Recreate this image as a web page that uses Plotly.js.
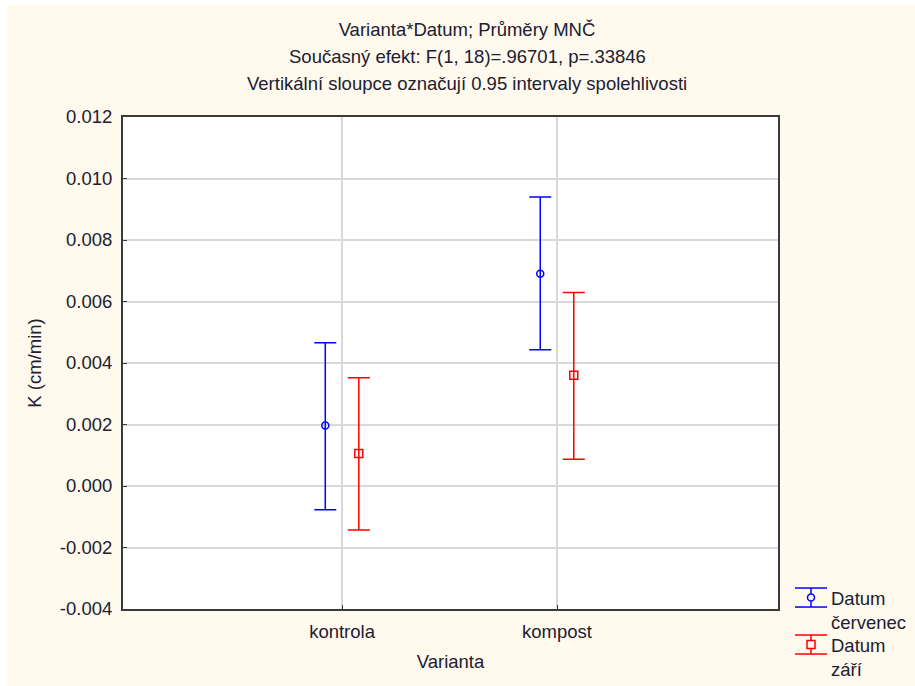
<!DOCTYPE html>
<html>
<head>
<meta charset="utf-8">
<script src="https://cdn.plot.ly/plotly-3.0.1.min.js"></script>
<style>
html,body{margin:0;padding:0;background:#ffffff;}
#chart{position:absolute;left:7px;top:5px;width:908px;height:681px;}
</style>
</head>
<body>
<div id="chart"></div>
<script>
// Categories (Varianta) and tick labels
var categories = ["kontrola", "kompost"];
var categoryPos = [0, 1];
// Series: Datum červenec
var meanCervenec = [0.00197, 0.0069];
var upperCervenec = [0.00466, 0.0094];
var lowerCervenec = [-0.00077, 0.00443];
// Series: Datum září
var meanZari = [0.00106, 0.0036];
var upperZari = [0.00352, 0.00629];
var lowerZari = [-0.00143, 0.00087];
var yTicks = [-0.004, -0.002, 0, 0.002, 0.004, 0.006, 0.008, 0.010, 0.012];
var yTickText = ["-0.004", "-0.002", "0.000", "0.002", "0.004", "0.006", "0.008", "0.010", "0.012"];

var dodge = 0.078;
function shift(arr, d){ return arr.map(function(v){ return v + d; }); }
function diff(a, b){ return a.map(function(v, i){ return v - b[i]; }); }

var font = "Liberation Sans, Arial, sans-serif";
var txt = "#202030";
var fs = 18.5;
var colors = ["#0000ff", "#ff0000"];

var traces = [
  {
    type: "scatter", mode: "markers",
    name: "Datum<br>červenec", legend: "legend",
    x: shift(categoryPos, -dodge), y: meanCervenec,
    marker: {symbol: "circle-open", size: 7, color: colors[0], line: {width: 1.5, color: colors[0]}},
    error_y: {type: "data", symmetric: false,
      array: diff(upperCervenec, meanCervenec),
      arrayminus: diff(meanCervenec, lowerCervenec),
      color: colors[0], thickness: 1.5, width: 11}
  },
  {
    type: "scatter", mode: "markers",
    name: "Datum<br>září", legend: "legend2",
    x: shift(categoryPos, dodge), y: meanZari,
    marker: {symbol: "square-open", size: 8, color: colors[1], line: {width: 1.5, color: colors[1]}},
    error_y: {type: "data", symmetric: false,
      array: diff(upperZari, meanZari),
      arrayminus: diff(meanZari, lowerZari),
      color: colors[1], thickness: 1.5, width: 11}
  }
];

var W = 908, H = 681;
var M = {l: 116, r: 137, t: 112, b: 77, autoexpand: false};
var PW = W - M.l - M.r, PH = H - M.t - M.b;
function legendBox(pageTop){
  return {
    x: (791 - 7 - M.l) / PW, y: (H - M.b - (pageTop - 5)) / PH, xanchor: "left", yanchor: "top",
    bgcolor: "rgba(0,0,0,0)", borderwidth: 0,
    font: {size: fs, color: txt}, valign: "top"
  };
}

var layout = {
  width: W, height: H,
  paper_bgcolor: "#fff9ee",
  plot_bgcolor: "#ffffff",
  font: {family: font, size: fs, color: txt},
  margin: M,
  title: {text: "Varianta*Datum; Průměry MNČ", x: 460 / W, xanchor: "center", y: 1 - 25 / H, yanchor: "middle", font: {size: fs, color: txt}},
  annotations: [
    {text: "Současný efekt: F(1, 18)=.96701, p=.33846", xref: "paper", yref: "paper", x: (460 - M.l) / PW, y: 1.0 + (M.t - 52) / PH, xanchor: "center", yanchor: "middle", showarrow: false, font: {size: fs, color: txt}},
    {text: "Vertikální sloupce označují 0.95 intervaly spolehlivosti", xref: "paper", yref: "paper", x: (460 - M.l) / PW, y: 1.0 + (M.t - 79) / PH, xanchor: "center", yanchor: "middle", showarrow: false, font: {size: fs, color: txt}}
  ],
  xaxis: {
    range: [-1.019, 2.028],
    tickvals: categoryPos, ticktext: categories,
    showgrid: true, gridcolor: "#d9d9d9", gridwidth: 2,
    zeroline: false, automargin: false,
    showline: true, linecolor: "#3a3a3a", linewidth: 2, mirror: true,
    ticks: "inside", ticklen: 4, tickcolor: "#3a3a3a", tickwidth: 1,
    ticklabelstandoff: 5,
    tickfont: {size: fs, color: txt},
    title: {text: "Varianta", font: {size: fs, color: txt}, standoff: 14}
  },
  yaxis: {
    range: [-0.004, 0.012],
    tickvals: yTicks, ticktext: yTickText,
    showgrid: true, gridcolor: "#d9d9d9", gridwidth: 2,
    zeroline: false, automargin: false,
    showline: true, linecolor: "#3a3a3a", linewidth: 2, mirror: true,
    ticks: "inside", ticklen: 4, tickcolor: "#3a3a3a", tickwidth: 1,
    ticklabelstandoff: 5,
    tickfont: {size: fs, color: txt},
    title: {text: "K (cm/min)", font: {size: fs, color: txt}, standoff: 13}
  },
  showlegend: true,
  legend: legendBox(579),
  legend2: legendBox(626)
};

// Draw error-bar style glyphs (caps + stem) around each legend marker
function addLegendGlyphs(gd){
  var box = gd.getBoundingClientRect();
  var pts = gd.querySelectorAll(".legendpoints path.scatterpts");
  var shapes = [];
  function px(x){ return (x - M.l) / PW; }
  function py(y){ return (H - M.b - y) / PH; }
  for (var i = 0; i < pts.length && i < colors.length; i++){
    var r = pts[i].getBoundingClientRect();
    var cx = (r.left + r.right) / 2 - box.left, cy = (r.top + r.bottom) / 2 - box.top;
    var line = {color: colors[i], width: 1.5};
    shapes.push({type: "line", xref: "paper", yref: "paper", x0: px(cx - 16), x1: px(cx + 16), y0: py(cy - 9.5), y1: py(cy - 9.5), line: line});
    shapes.push({type: "line", xref: "paper", yref: "paper", x0: px(cx - 16), x1: px(cx + 16), y0: py(cy + 9.5), y1: py(cy + 9.5), line: line});
    shapes.push({type: "line", xref: "paper", yref: "paper", x0: px(cx), x1: px(cx), y0: py(cy - 9.5), y1: py(cy - 4), line: line});
    shapes.push({type: "line", xref: "paper", yref: "paper", x0: px(cx), x1: px(cx), y0: py(cy + 4), y1: py(cy + 9.5), line: line});
  }
  return Plotly.relayout(gd, {shapes: shapes});
}

Plotly.newPlot("chart", traces, layout, {displayModeBar: false, staticPlot: true}).then(addLegendGlyphs);
</script>
</body>
</html>
